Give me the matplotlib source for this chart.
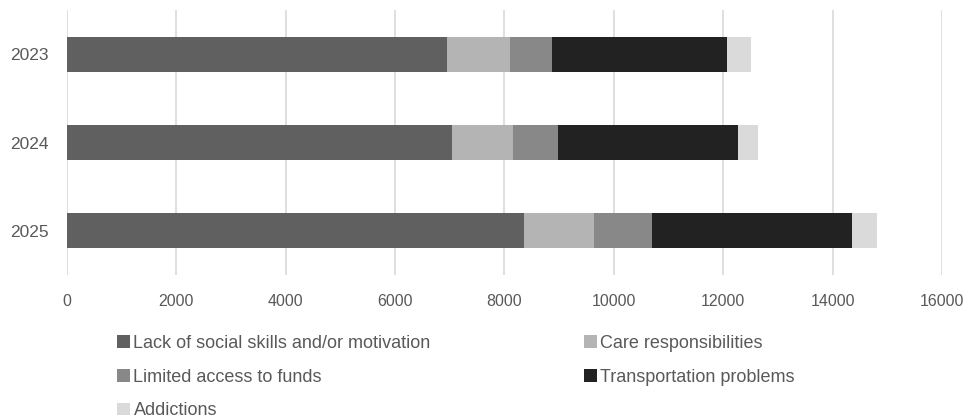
import numpy as np
import matplotlib
matplotlib.use("Agg")
import matplotlib.pyplot as plt

plt.rcParams['font.family'] = ['Liberation Sans', 'DejaVu Sans']

# donnees
years = ["2023", "2024", "2025"]
lack_skills = [6950, 7040, 8360]
care = [1150, 1115, 1280]
funds = [770, 823, 1060]
transport = [3200, 3290, 3660]
addictions = [440, 366, 460]

series = [
    ("Lack of social skills and/or motivation", lack_skills, "#606060"),
    ("Care responsibilities", care, "#b4b4b4"),
    ("Limited access to funds", funds, "#888888"),
    ("Transportation problems", transport, "#222222"),
    ("Addictions", addictions, "#dadada"),
]

fig = plt.figure(figsize=(9.71, 4.18), dpi=100)
ax = fig.add_axes([0.069, 0.343, 0.901, 0.632])

y = np.arange(len(years))
left = np.zeros(len(years))
handles = {}
for name, vals, col in series:
    b = ax.barh(y, vals, left=left, height=0.4, color=col, label=name, zorder=3)
    handles[name] = b
    left = left + np.array(vals)

ax.set_ylim(len(years) - 0.5, -0.5)
ax.set_yticks(y)
ax.set_yticklabels(years)
ax.set_xlim(0, 16000)
ax.set_xticks(np.arange(0, 16001, 2000))
ax.grid(axis="x", color="#d9d9d9", linewidth=1.2, zorder=0)
for s in ax.spines.values():
    s.set_visible(False)
ax.tick_params(axis="both", length=0, colors="#595959")
ax.tick_params(axis="y", labelsize=12.5, pad=13)
ax.tick_params(axis="x", labelsize=11.5, pad=14)

# ordre des entrees pour remplir la legende ligne par ligne
order = ["Lack of social skills and/or motivation", "Limited access to funds", "Addictions",
         "Care responsibilities", "Transportation problems"]
fig.legend([handles[n] for n in order], order, ncol=2, loc="upper left",
           bbox_to_anchor=(0.104, 0.238), frameon=False, fontsize=13,
           labelcolor="#595959", handlelength=0.7, handleheight=0.7,
           handletextpad=0.2, columnspacing=8.5, labelspacing=0.93)

fig.savefig("out.png", dpi=100)
